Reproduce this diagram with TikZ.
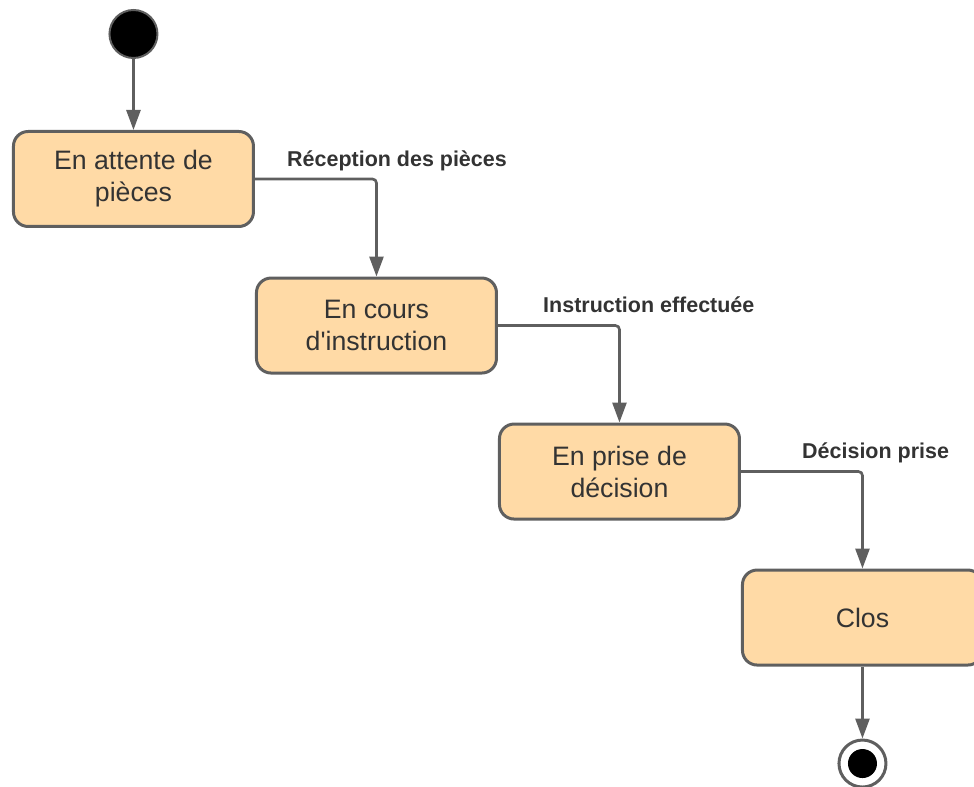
\documentclass[tikz,border=0pt]{standalone}
\usepackage{fontspec}
\setmainfont{Liberation Sans}
\usetikzlibrary{positioning,arrows.meta}

\definecolor{statefill}{RGB}{255,218,166}
\definecolor{stateline}{RGB}{95,95,95}
\definecolor{statetext}{RGB}{51,51,51}

\begin{document}
\begin{tikzpicture}[auto,
        state/.style={draw=stateline, fill=statefill, line width=2.25pt, rounded corners=11pt,
            minimum width=180pt, minimum height=71.25pt, inner sep=0pt, align=center,
            text=statetext, font=\fontsize{20}{24}\selectfont},
        startstate/.style={circle, draw=stateline, fill=black, line width=1.5pt, minimum size=36pt, inner sep=0pt},
        endstate/.style={circle, draw=stateline, fill=white, line width=2.25pt, minimum size=35.25pt, inner sep=0pt},
        enddot/.style={circle, fill=black, minimum size=21.75pt, inner sep=0pt},
        trans/.style={font=\bfseries\fontsize{16.1}{19}\selectfont, text=statetext, inner sep=0pt, anchor=base west},
        link/.style={->, draw=stateline, line width=2pt, rounded corners=3pt},
        >={Triangle[length=15pt, width=10.5pt]}
    ]
        \useasboundingbox (0,0) rectangle (730.5pt,-590.25pt);

        \node [state] (attente) at (100.1pt,-134.25pt) {En attente de\\pièces};
        \node [state, below right=36.4pt and 0pt of attente] (cours) {En cours\\d\textquotesingle instruction};
        \node [state, below right=36pt and 0pt of cours] (decision) {En prise de\\décision};
        \node [state, below right=36pt and 0pt of decision] (clos) {Clos};
        \node [startstate, above=53.25pt of attente] (debut) {};
        \node [endstate, below=54pt of clos] (fin) {};
        \node [enddot] (findot) at (fin) {};

        \draw [link] (debut) -- (attente);
        \draw [link] (attente) -| (cours);
        \draw [link] (cours) -| (decision);
        \draw [link] (decision) -| (clos);
        \draw [link] (clos) -- (fin);

        \node [trans] (reception) at ([shift={(24pt,9.4pt)}]attente.east) {Réception des pièces};
        \node [trans] (instruction) at ([shift={(33.75pt,9.4pt)}]cours.east) {Instruction effectuée};
        \node [trans] (prise) at ([shift={(45.75pt,9.4pt)}]decision.east) {Décision prise};
    \end{tikzpicture}
\end{document}
